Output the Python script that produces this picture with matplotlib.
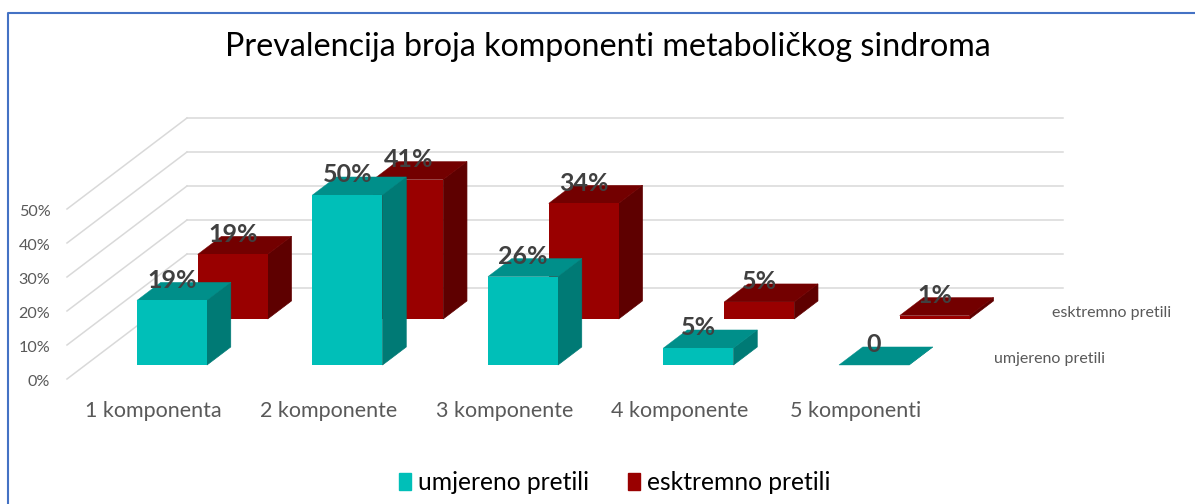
import matplotlib
matplotlib.use("Agg")
import matplotlib.pyplot as plt
from matplotlib.patches import Patch, Polygon
from matplotlib.transforms import ScaledTranslation

plt.rcParams['font.family'] = ['Lato', 'DejaVu Sans']

title = "Prevalencija broja komponenti metaboličkog sindroma"
categories = ["1 komponenta", "2 komponente", "3 komponente", "4 komponente", "5 komponenti"]
umjereno = [19, 50, 26, 5, 0]
ekstremno = [19, 41, 34, 5, 1]
y_ticks = [0, 10, 20, 30, 40, 50]

W, H = 1195, 504
fig = plt.figure(figsize=(W/100, H/100), dpi=100)
fig.patch.set_facecolor("white")

# front plane of the fake 3d box, in pixels
left, right, bottom, top = 67, 943, 379, 209
ax = fig.add_axes([left/W, 1-bottom/H, (right-left)/W, (bottom-top)/H])
x_per_px = 1/175.5
ax.set_xlim((left-153.5)*x_per_px, (right-153.5)*x_per_px)
ax.set_ylim(0, 50)
y_per_px = 50/170

# one unit of depth is the whole way from front plane to back wall
dx = 120*x_per_px
dy = 91*y_per_px
bar_w = 70*x_per_px
bar_d = 0.198


def depth(x, y, d):
    return x + d*dx, y + d*dy


def bar3d(x, val, d, front, top_c, side):
    x0 = x - bar_w/2
    x1 = x + bar_w/2
    fx, fy = depth(x0, 0, d)
    ax.add_patch(Polygon([depth(x1, 0, d), depth(x1, val, d),
                          depth(x1, val, d+bar_d), depth(x1, 0, d+bar_d)],
                         fc=side, ec=side, lw=0.5, clip_on=False, zorder=3))
    ax.add_patch(Polygon([depth(x0, val, d), depth(x1, val, d),
                          depth(x1, val, d+bar_d), depth(x0, val, d+bar_d)],
                         fc=top_c, ec=top_c, lw=0.3, clip_on=False, zorder=3))
    ax.bar(fx, val, bar_w, bottom=fy, align="edge", color=front, clip_on=False, zorder=3)
    # labels sit above the front edge, over the top face
    lx, ly = depth(x, val, d)
    txt = f"{val}%" if val else "0"
    ax.text(lx, ly + 20*y_per_px, txt, ha="center", va="center", fontsize=18, fontweight="bold",
            color="#404040", clip_on=False, zorder=6)


# walls
xmin, xmax = ax.get_xlim()
for t in y_ticks:
    bx, by = depth(xmin, t, 1)
    ex, _ = depth(xmax, t, 1)
    ax.plot([xmin, bx], [t, by], color="#D9D9D9", lw=1.1, clip_on=False, zorder=1)
    ax.plot([bx, ex], [by, by], color="#D9D9D9", lw=1.1, clip_on=False, zorder=1)

# back row first so the front row covers it
for i, v in enumerate(ekstremno):
    bar3d(i, v, 0.66, "#990000", "#730000", "#5E0000")
for i, v in enumerate(umjereno):
    bar3d(i, v, 0.154, "#00BFB8", "#008F8A", "#007A75")

# series names on the depth axis
for name, sx0, d in (("esktremno pretili", 4.94, 0.759), ("umjereno pretili", 4.93, 0.253)):
    sx, sy = depth(sx0, 0, d)
    ax.text(sx, sy - 3*y_per_px, name, ha="center", va="center", fontsize=11.5, color="#595959", clip_on=False)

for s in ax.spines.values():
    s.set_visible(False)
ax.patch.set_alpha(0)
ax.set_xticks(range(len(categories)), categories)
ax.set_yticks(y_ticks, [f"{t}%" for t in y_ticks], va="center_baseline")
ax.tick_params(axis="x", length=0, pad=16, labelsize=15.5, labelcolor="#595959")
ax.tick_params(axis="y", length=0, pad=12, labelsize=11.6, labelcolor="#595959")
# y labels sit a little under their gridline start
shift = ScaledTranslation(0, -2/100, fig.dpi_scale_trans)
for lab in ax.get_yticklabels():
    lab.set_transform(lab.get_transform() + shift)

fig.text(608/W, 1-47/H, title, ha="center", va="center", fontsize=23.2, color="black")

handles = [Patch(color="#00BFB8", label="umjereno pretili"), Patch(color="#990000", label="esktremno pretili")]
fig.legend(handles=handles, loc="center", bbox_to_anchor=(614.5/W, 1-482.5/H), ncol=2, frameon=False,
           fontsize=17.7, labelcolor="black", handlelength=0.49, handleheight=0.65,
           handletextpad=0.28, columnspacing=1.6, borderpad=0, borderaxespad=0)

# blue frame of the pasted chart
fig.add_artist(plt.Line2D([8/W, 8/W, 1], [0, 1-13/H, 1-13/H], color="#4472C4", lw=1.5))

fig.savefig("out.png", dpi=100)
